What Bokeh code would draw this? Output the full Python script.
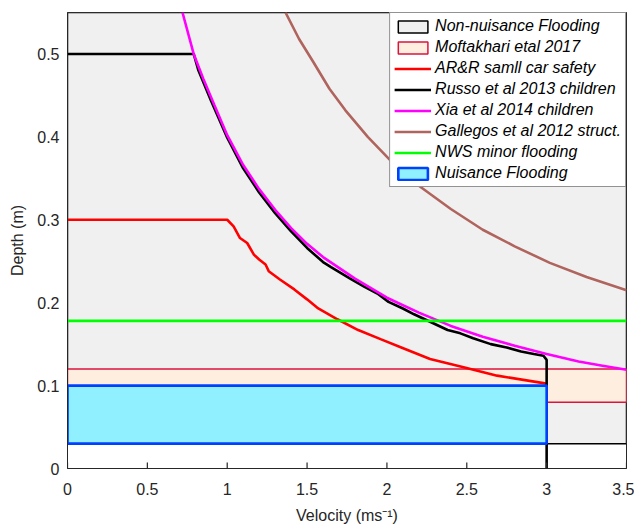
from bokeh.plotting import figure
from bokeh.models import Range1d, Legend, LegendItem
from bokeh.embed import file_html
from bokeh.resources import INLINE

# ---- data ----
nonnuis_v = [0, 0, 3.5, 3.5]
nonnuis_d = [0.03, 0.55, 0.55, 0.03]

moft_v = [0, 3.5, 3.5, 0]
moft_d = [0.08, 0.08, 0.12, 0.12]

arr_v = [0, 1.0, 1.04, 1.08, 1.125, 1.167, 1.2, 1.24, 1.26, 1.33, 1.42, 1.5, 1.57,
         1.69, 1.82, 1.96, 2.09, 2.27, 2.48, 2.69, 2.98, 3.0]
arr_d = [0.3, 0.3, 0.292, 0.278, 0.272, 0.258, 0.252, 0.246, 0.238, 0.228, 0.216, 0.204,
         0.193, 0.18, 0.167, 0.156, 0.146, 0.132, 0.122, 0.112, 0.103, 0.102]

russo_v = [0, 0.79, 0.82, 0.9, 1.0, 1.1, 1.2, 1.3, 1.4, 1.5, 1.6, 1.65, 1.77, 1.86, 1.94,
           2.01, 2.1, 2.17, 2.27, 2.38, 2.46, 2.54, 2.65, 2.75, 2.84, 2.92, 2.98, 3.0, 3.0]
russo_d = [0.5, 0.5, 0.48, 0.443, 0.399, 0.362, 0.333, 0.308, 0.286, 0.266, 0.249, 0.243,
           0.229, 0.219, 0.211, 0.201, 0.193, 0.186, 0.177, 0.167, 0.163, 0.157, 0.15,
           0.146, 0.141, 0.138, 0.136, 0.131, 0.0]

xia_v = [0.72, 0.79, 0.85, 0.92, 1.0, 1.1, 1.2, 1.3, 1.4, 1.5, 1.6, 1.8, 2.0, 2.2, 2.4,
         2.6, 2.8, 3.0, 3.2, 3.35, 3.5]
xia_d = [0.55, 0.50, 0.47, 0.438, 0.402, 0.366, 0.337, 0.312, 0.29, 0.271, 0.255, 0.229,
         0.206, 0.188, 0.172, 0.159, 0.148, 0.138, 0.129, 0.124, 0.119]

gal_v = [1.365, 1.45, 1.54, 1.64, 1.74, 1.88, 2.02, 2.2, 2.4, 2.6, 2.8, 3.02, 3.25, 3.5]
gal_d = [0.55, 0.518, 0.49, 0.458, 0.432, 0.40, 0.372, 0.341, 0.313, 0.288, 0.268, 0.248,
         0.231, 0.215]

nws_v = [0, 3.5]
nws_d = [0.178, 0.178]

nuis_v = [0, 3.0, 3.0, 0]
nuis_d = [0.03, 0.03, 0.1, 0.1]

x_ticks = [0, 0.5, 1, 1.5, 2, 2.5, 3, 3.5]
x_tick_labels = ["0", "0.5", "1", "1.5", "2", "2.5", "3", "3.5"]
y_ticks = [0, 0.1, 0.2, 0.3, 0.4, 0.5]
y_tick_labels = ["0", "0.1", "0.2", "0.3", "0.4", "0.5"]

labels = ["Non-nuisance Flooding", "Moftakhari etal 2017", "AR&R samll car safety",
          "Russo et al 2013 children", "Xia et al 2014 children",
          "Gallegos et al 2012 struct.", "NWS minor flooding", "Nuisance Flooding"]

FONT = "Liberation Sans"
AX = "#262626"

p = figure(width=634, height=526, output_backend="svg", toolbar_location=None,
           x_range=Range1d(0, 3.5), y_range=Range1d(0, 0.55),
           min_border_left=67, min_border_right=8, min_border_top=12, min_border_bottom=58)
p.background_fill_color = "white"
p.border_fill_color = "white"
p.grid.visible = False
p.outline_line_color = AX
p.outline_line_width = 1

r1 = p.patch(nonnuis_v, nonnuis_d, fill_color="#f0f0f0", line_color="black", line_width=1.5)
r2 = p.patch(moft_v, moft_d, fill_color="#fdeee0", line_color="#dc143c", line_width=1.5)
r3 = p.line(arr_v, arr_d, line_color="#ff0000", line_width=2.6)
r4 = p.line(russo_v, russo_d, line_color="black", line_width=2.6)
r5 = p.line(xia_v, xia_d, line_color="#ff00ff", line_width=2.6)
r6 = p.line(gal_v, gal_d, line_color="#b0645e", line_width=2.6)
r7 = p.line(nws_v, nws_d, line_color="#00ff00", line_width=2.6)
r8 = p.patch(nuis_v, nuis_d, fill_color="#90f0ff", line_color="#0040ff", line_width=2.6)

# inward bottom tick marks (MATLAB style), drawn at the tick positions
tick_len = 0.55 * 6 / 456  # 6 px in data units
p.segment(x0=x_ticks, y0=[0] * len(x_ticks), x1=x_ticks,
          y1=[tick_len] * len(x_ticks), line_color=AX, line_width=1.2)

legend = Legend(items=[LegendItem(label=l, renderers=[r]) for l, r in
                       zip(labels, [r1, r2, r3, r4, r5, r6, r7, r8])],
                location="top_right", margin=0, padding=4, spacing=3,
                glyph_width=37, glyph_height=15, label_height=16, label_standoff=4,
                label_text_font=FONT, label_text_font_style="italic",
                label_text_font_size="16px", label_text_color="black",
                border_line_color=AX, border_line_width=1.2,
                background_fill_color="white", background_fill_alpha=1.0)
p.add_layout(legend)

p.xaxis.ticker = x_ticks
p.xaxis.major_label_overrides = {t: s for t, s in zip(x_ticks, x_tick_labels)}
p.yaxis.ticker = y_ticks
p.yaxis.major_label_overrides = {t: s for t, s in zip(y_ticks, y_tick_labels)}

p.xaxis.axis_label = "Velocity (ms\u207b\u00b9)"
p.yaxis.axis_label = "Depth (m)"
for ax in (p.xaxis, p.yaxis):
    ax.axis_line_color = AX
    ax.major_label_text_font = FONT
    ax.major_label_text_font_size = "16px"
    ax.major_label_text_color = AX
    ax.axis_label_text_font = FONT
    ax.axis_label_text_font_size = "16px"
    ax.axis_label_text_font_style = "normal"
    ax.axis_label_text_color = AX
    ax.minor_tick_line_color = None
    ax.major_tick_line_color = None
    ax.major_tick_in = 0
    ax.major_tick_out = 0
p.xaxis.major_label_standoff = 14
p.xaxis.axis_label_standoff = 9
p.yaxis.major_label_standoff = 8
p.yaxis.axis_label_standoff = 8

open("out.html", "w").write(file_html(p, INLINE))
